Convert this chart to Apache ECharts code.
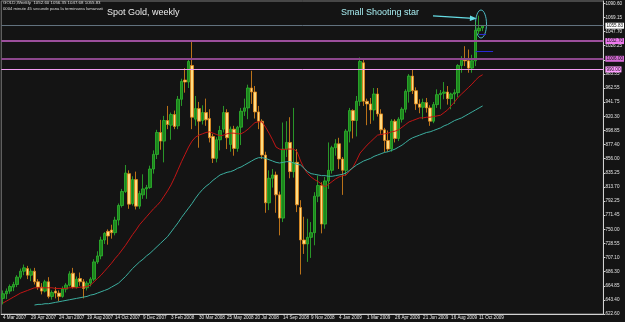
<!DOCTYPE html>
<html>
<head>
<meta charset="utf-8">
<script src="https://cdn.jsdelivr.net/npm/echarts@6/dist/echarts.min.js"></script>
<style>
  html, body { margin: 0; padding: 0; background: #141414; }
  #main { width: 625px; height: 322px; }
</style>
</head>
<body>
<div id="main"></div>
<script>
// weekly bars, week of 4 Mar 2007 .. week of 18 Oct 2009
const opens = [645,652,656,662,666,677,686,690,680,686,
  670,662,656,670,648,656,653,648,659,665,
  683,662,675,670,661,668,674,700,709,733,
  746,748,744,763,785,806,833,788,824,784,
  801,810,812,840,862,895,882,913,906,922,
  905,945,974,971,996,915,931,913,925,916,
  889,856,884,900,925,877,900,871,903,927,
  932,962,956,926,912,861,789,826,831,801,
  766,870,880,836,850,782,733,727,737,744,
  799,815,757,822,838,872,878,855,838,897,
  928,913,942,1000,942,938,929,953,923,899,
  883,870,912,886,915,930,957,980,958,938,
  933,940,932,912,937,952,954,956,946,953,
  955,996,1006,1003,992,1003,1048,1052.6];
const closes = [652,656,663,666,677,686,691,680,686,670,
  662,656,670,648,654,653,648,659,665,682,
  662,674,670,660,668,674,700,709,733,743,
  739,744,763,785,806,834,787,824,784,803,
  810,812,840,862,895,882,913,907,922,904,
  945,972,971,1002,918,931,912,925,914,887,
  856,884,898,925,887,900,871,903,927,932,
  962,956,926,912,861,789,826,831,801,766,
  870,880,836,850,786,733,727,737,744,799,
  815,757,822,838,872,878,855,838,897,928,
  913,942,1002,942,938,929,953,923,899,883,
  870,912,886,915,930,957,980,958,938,933,
  940,932,912,937,952,954,956,946,953,955,
  996,1006,1003,992,1003,1049,1052,1055.83];
const lows = [636,644,652,656,662,674,680,674,671,666,
  658,651,654,645,643,645,641,646,654,663,
  660,660,664,645,657,663,671,697,704,727,
  726,735,740,755,782,804,780,785,779,780,
  795,795,810,833,855,869,850,900,884,900,
  900,935,955,962,900,905,872,907,905,880,
  849,850,868,895,870,866,860,866,876,920,
  915,938,916,900,855,774,778,812,774,740,
  760,858,826,827,775,681,712,700,706,725,
  790,743,750,810,833,860,840,801,830,880,
  886,889,935,935,906,908,913,919,893,865,
  866,866,880,882,910,925,940,953,929,924,
  915,925,905,909,932,930,945,937,930,938,
  948,985,995,985,985,995,1043,1047.68];
const highs = [657,660,666,670,680,690,696,694,690,691,
  674,668,673,677,657,662,657,663,668,686,
  691,678,684,674,671,677,704,716,738,745,
  749,756,768,788,810,846,838,829,836,807,
  832,816,845,868,899,914,920,935,925,928,
  950,976,992,1006,1033,950,941,936,946,930,
  893,888,905,935,930,904,905,905,932,946,
  967,988,965,935,915,866,838,840,836,806,
  910,912,918,932,870,793,768,765,760,805,
  830,820,828,880,875,885,887,858,900,932,
  930,950,1008,1005,946,947,962,962,930,902,
  898,915,915,918,933,960,983,990,963,945,
  946,947,936,941,960,959,971,965,955,960,
  998,1010,1025,1020,1012,1062,1071,1056.35];

// moving averages as drawn (red = fast, teal = slow)
const maFast = [638,641,644,647,650,653,655,657,659,661,
  661,661,661,661,661,660,660,660,660,661,
  661,661,662,662,663,665,670,675,680,686,
  692,698,705,711,718,725,733,741,748,756,
  762,768,774,780,785,791,799,807,816,827,
  839,851,862,873,882,888,891,893,895,896,
  894,892,890,891,893,894,894,893,893,896,
  900,905,910,911,911,903,894,884,873,870,
  869,870,870,870,866,852,841,833,828,824,
  821,817,813,817,821,825,828,830,831,837,
  843,853,864,870,876,881,886,891,892,893,
  894,896,897,899,903,907,911,913,915,917,
  917,918,918,919,920,921,925,929,935,941,
  948,953,958,963,968,974,979,982];
const maSlow = [null,null,null,null,null,null,null,null,null,635,
  636,636,637,637,638,639,640,641,642,643,
  644,645,646,647,648,650,651,653,655,657,
  659,662,665,668,673,678,684,690,695,700,
  704,709,713,718,723,728,733,738,745,752,
  759,767,774,781,788,796,803,809,814,818,
  823,827,831,833,835,836,838,841,843,846,
  849,852,855,857,857,856,854,852,850,849,
  850,851,851,849,847,846,841,836,833,832,
  831,830,830,829,829,830,831,832,834,838,
  842,846,849,852,854,856,859,861,863,865,
  866,868,870,873,876,880,884,887,889,891,
  893,895,896,898,900,902,905,907,910,913,
  915,917,920,923,926,929,932,935];

const tickLabels = ['4 Mar 2007','29 Apr 2007','24 Jun 2007','19 Aug 2007','14 Oct 2007','9 Dec 2007',
  '3 Feb 2008','30 Mar 2008','25 May 2008','20 Jul 2008','14 Sep 2008','9 Nov 2008',
  '4 Jan 2009','1 Mar 2009','26 Apr 2009','21 Jun 2009','16 Aug 2009','11 Oct 2009'];
const priceLabels = ['622.60','643.40','664.85','686.30','707.10','728.55','750.00','771.45',
  '792.25','813.70','835.25','856.00','877.40','898.85','920.30','941.75','962.55',
  '983.35','1004.80','1026.25','1047.70','1069.15','1090.60'];

// horizontal levels on the chart
const bidLevel = 1055.83;
const levels = [1032.70, 1006.00, 990.00];

const months = ['Jan','Feb','Mar','Apr','May','Jun','Jul','Aug','Sep','Oct','Nov','Dec'];
const weeks = [];
for (let i = 0; i < 172; i++) {
  const d = new Date(Date.UTC(2007, 2, 4 + 7 * i));
  weeks.push(d.getUTCDate() + ' ' + months[d.getUTCMonth()] + ' ' + d.getUTCFullYear());
}
const candles = opens.map((o, i) => [o, closes[i], lows[i], highs[i]]);

const FONT = 'Liberation Sans';
const showTick = (i) => i % 8 === 0 && i / 8 < tickLabels.length;
const boxLabel = (txt, bg) => ({
  show: true, position: 'end', distance: 2, formatter: txt,
  backgroundColor: bg, color: '#111', fontSize: 4.6, fontFamily: FONT,
  padding: [1, 1, 0, 1]
});

const chart = echarts.init(document.getElementById('main'));
chart.setOption({
  animation: false,
  backgroundColor: '#141414',
  grid: { left: 1, right: 19, top: 1, bottom: 8, show: true, borderColor: '#7a7a7a', borderWidth: 1 },
  xAxis: {
    type: 'category',
    data: weeks,
    boundaryGap: true,
    axisLine: { lineStyle: { color: '#d2d2d2' } },
    axisTick: { alignWithLabel: true, interval: showTick, length: 2, lineStyle: { color: '#d2d2d2' } },
    axisLabel: {
      interval: showTick,
      formatter: (v, i) => tickLabels[i / 8] || '',
      align: 'left', margin: 1.5, color: '#e6e6e6', fontSize: 4.6, fontFamily: FONT
    },
    splitLine: { show: false }
  },
  yAxis: [
    { type: 'value', min: 621.5, max: 1093.1, position: 'right', scale: true,
      axisLine: { show: false }, axisTick: { show: false }, axisLabel: { show: false }, splitLine: { show: false } },
    { type: 'value', min: 0, max: 471.6 / 21.2727, interval: 1, position: 'right',
      axisLine: { show: true, lineStyle: { color: '#d2d2d2' } },
      axisTick: { show: true, length: 2, lineStyle: { color: '#d2d2d2' } },
      axisLabel: {
        formatter: (v) => Number.isInteger(v) ? priceLabels[v] : '',
        showMaxLabel: false, margin: 2, color: '#e6e6e6', fontSize: 4.6, fontFamily: FONT
      },
      splitLine: { show: false } }
  ],
  series: [
    { type: 'line', data: maFast, yAxisIndex: 0, symbol: 'none', silent: true,
      lineStyle: { color: '#c21515', width: 1 } },
    { type: 'line', data: maSlow, yAxisIndex: 0, symbol: 'none', silent: true,
      lineStyle: { color: '#3cae9f', width: 1 } },
    { type: 'candlestick', data: candles, yAxisIndex: 0, barWidth: 3,
      itemStyle: { color: '#1c861c', color0: '#ffdc82', borderColor: '#2fb82f', borderColor0: '#e58a1a', borderWidth: 0.8 },
      markLine: {
        silent: true, symbol: ['none', 'none'], animation: false,
        data: [
          { yAxis: bidLevel, lineStyle: { color: '#62727f', width: 1, type: 'solid' },
            label: boxLabel(bidLevel.toFixed(2), '#ffffff') },
          { yAxis: levels[0], lineStyle: { color: '#9c4f9c', width: 2, type: 'solid' },
            label: boxLabel(levels[0].toFixed(2), '#ee7aee') },
          { yAxis: levels[1], lineStyle: { color: '#8c478c', width: 2, type: 'solid' },
            label: boxLabel(levels[1].toFixed(2), '#d46ad4') },
          { yAxis: levels[2], lineStyle: { color: '#f29cf2', width: 1, type: 'solid' },
            label: boxLabel(levels[2].toFixed(2), '#ff9cff') },
          [ { coord: [weeks[135], 1018], lineStyle: { color: '#2a2ad2', width: 1, type: 'solid' }, label: { show: false } },
            { coord: [weeks[140], 1018] } ],
          [ { coord: [weeks[136], 1043.5], lineStyle: { color: '#2a2ad2', width: 1, type: 'solid' }, label: { show: false } },
            { coord: [weeks[138], 1043.5] } ]
        ]
      } }
  ],
  graphic: [
    { type: 'text', left: 3, top: 1, silent: true,
      style: { text: 'GOLD,Weekly  1052.60 1056.35 1047.68 1055.83', fill: '#dcdcdc', font: '4.4px ' + FONT } },
    { type: 'text', left: 3, top: 6.5, silent: true,
      style: { text: '0004 minute 45 secunde pana la terminarea lumanarii', fill: '#dcdcdc', font: '4.2px ' + FONT } },
    { type: 'text', left: 107, top: 8, silent: true,
      style: { text: 'Spot Gold, weekly', fill: '#ececec', font: '9px ' + FONT } },
    { type: 'text', left: 341, top: 8, silent: true,
      style: { text: 'Small Shooting star', fill: '#a8eef2', font: '9px ' + FONT } },
    { type: 'line', silent: true, shape: { x1: 433, y1: 15.8, x2: 473, y2: 18.3 },
      style: { stroke: '#66dce4', lineWidth: 1.2 } },
    { type: 'polygon', silent: true, shape: { points: [[477, 18.5], [470, 15.6], [469.8, 21]] },
      style: { fill: '#66dce4' } },
    { type: 'ellipse', silent: true, shape: { cx: 481, cy: 24, rx: 5.5, ry: 14 },
      style: { stroke: '#4cb8c2', fill: 'none', lineWidth: 1 } }
  ]
});
</script>
</body>
</html>
